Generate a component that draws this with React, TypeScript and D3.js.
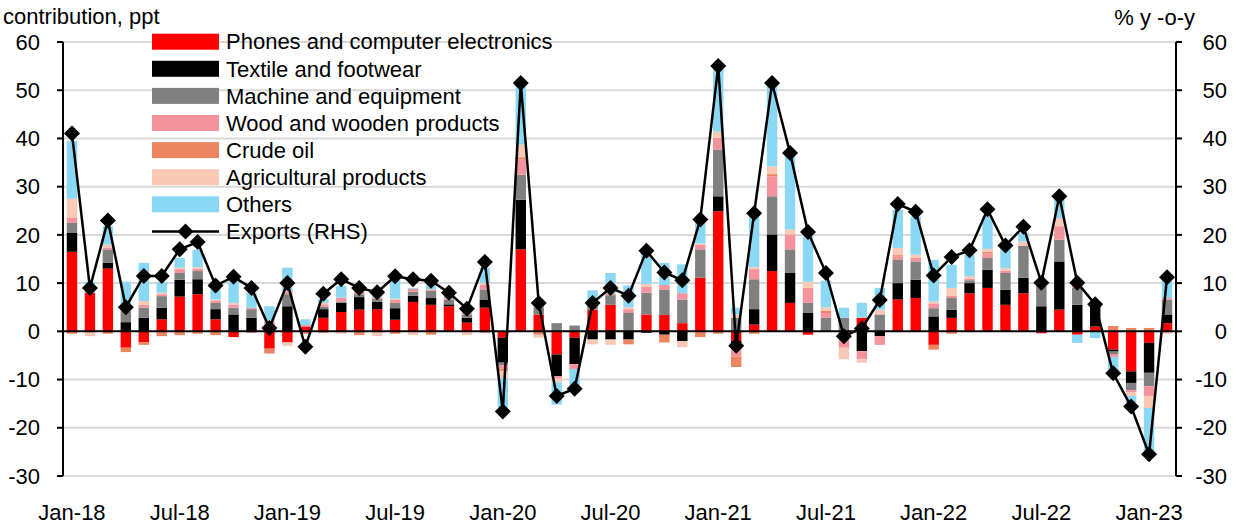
import React from 'react';
import * as d3 from 'd3';

const months = [
  'Jan-18','Feb-18','Mar-18','Apr-18','May-18','Jun-18','Jul-18','Aug-18','Sep-18','Oct-18','Nov-18','Dec-18',
  'Jan-19','Feb-19','Mar-19','Apr-19','May-19','Jun-19','Jul-19','Aug-19','Sep-19','Oct-19','Nov-19','Dec-19',
  'Jan-20','Feb-20','Mar-20','Apr-20','May-20','Jun-20','Jul-20','Aug-20','Sep-20','Oct-20','Nov-20','Dec-20',
  'Jan-21','Feb-21','Mar-21','Apr-21','May-21','Jun-21','Jul-21','Aug-21','Sep-21','Oct-21','Nov-21','Dec-21',
  'Jan-22','Feb-22','Mar-22','Apr-22','May-22','Jun-22','Jul-22','Aug-22','Sep-22','Oct-22','Nov-22','Dec-22',
  'Jan-23','Feb-23'
];

const phones = [16.5,8,13,-3.4,-2.3,2.5,7.2,7.7,2.5,-1.2,0,-3.6,-2.3,1,2.8,4,4.5,4.6,2.4,6.1,5.5,5.2,1.8,4.9,-1.3,17,3.5,-4.8,-1.3,4.5,5.5,0,3.5,3.4,1.7,11.1,24.9,-2,1.4,12.5,5.9,-0.7,0,-1.7,2.8,0,6.6,6.9,-2.8,2.8,7.9,9,5.5,7.9,-0.4,4.5,-0.7,1,-3.8,-8.3,-2.4,1.7];
const textile = [4,0,1.2,1.9,2.8,2.4,3.5,3.1,2.1,3.5,2.8,0,5.2,0,1.8,1.9,2.6,1.5,2.4,1.3,1.4,0.4,1,1.7,-5.2,10.3,0,-4.5,-5.5,-1.7,-1.7,-1.7,-0.3,-0.7,-2,0,3.1,-1.7,3.2,7.6,6.2,3.9,0,0,-4.1,-1,3.4,3.8,3.1,1.7,2.1,3.8,3.1,3.2,5.2,10,5.5,4.2,-0.4,-2.4,-6.2,1.8];
const machine = [2,0,2.8,2.3,2.1,2.4,1.4,1.7,1.3,1.4,1.8,1.2,2.5,0,0.5,0.3,0.6,0.6,1.1,0.8,1.5,1,0.7,2.1,-0.5,5.2,1.5,1.7,1.2,1,2,3.8,4.5,5.2,4.9,5.9,9.7,2.8,6.2,7.9,4.9,2,2.8,2.8,0,3.5,4.8,3.8,1.7,2.4,0.6,2.4,3.5,6.6,4.2,4.5,3.5,0.5,-0.5,-1.5,-2.8,3.1];
const wood = [1,0,0.4,0.3,0.6,0.4,0.8,0.5,0.5,0.6,0.3,0.8,0.6,0.3,0.5,0.8,0.6,0.3,0.6,0.6,0.3,0.3,0.4,1,-0.7,3.1,0.2,-0.5,-1,0.5,0.3,0.8,1.2,1,1.3,1,2.4,-1.6,2.1,4.1,3.1,3.1,1,-1.7,-1.7,-1.8,0.7,0.7,1,0.5,0.3,1,0.5,0,0,2.8,0.6,0,-0.6,-0.4,-2,0.3];
const crudeOil = [-0.5,0,-0.5,-0.9,-0.5,-1,-0.8,-0.5,-0.8,0,-0.3,-1,0,-0.5,-0.3,0,-0.8,0,-0.5,0,-0.7,0,0,-0.3,-0.5,0.5,-0.7,0,0,0,0,-1,0,-1.6,0,-1.2,-0.5,-2.1,-0.5,0.5,0,0,0.5,0,0,0,0.3,0,-1,-0.5,0,0.3,0,0,0,0,0.4,0,1.1,0.7,0.7,0];
const agri = [4,-1,0.6,0,0.8,0.3,0.3,0.3,0.2,0.4,0,0.3,-0.7,0,0.3,-0.5,0.3,-1,0.3,-0.8,0,0,-0.8,0.3,-1.5,2.6,-0.6,-0.8,0,-1,-1.1,0.4,0.6,0,-1.3,0.2,1.3,0.7,0.4,1.6,1,1.3,0.7,-2.4,-0.7,1,1.5,0.7,0.4,1.6,0.5,0.6,0.5,0.9,0,1.7,0,0,0,-0.8,-2.5,-0.5];
const others = [12,2.3,3.8,5.8,7.9,2.2,2,3.6,2.1,4.5,3.1,2.9,4.9,1.2,0.8,2.4,0.3,0.5,3.8,0.2,1,0.8,0.6,3.2,-6.2,12.1,0.5,-4.6,-4,2.5,4.3,4.5,6.8,4.6,6,4.8,13,1.4,10.8,16.9,15.5,9.4,5.5,2.1,3.1,4.5,7.9,7.9,8.6,4.8,4.4,6.7,4.2,1.8,0.5,3.8,-1.7,-1.4,-3.2,-1.5,-9.2,3.5];
const exportsYoY = [41,9,23,5,11.5,11.5,17,18.5,9.5,11.3,9,0.7,10,-3.2,7.8,10.8,9,8.1,11.4,10.8,10.5,8,4.7,14.4,-16.6,51.5,5.9,-13.4,-11.9,5.9,9,7.4,16.7,12.2,10.6,23.2,55,-3,24.5,51.5,37,20.6,12.1,-1,0.6,6.5,26.4,24.8,11.6,15.4,16.8,25.3,17.8,21.7,10.1,28,10.1,5.6,-8.7,-15.6,-25.5,11.2];

const yTicks = [-30,-20,-10,0,10,20,30,40,50,60];
const xTickLabels = ['Jan-18','Jul-18','Jan-19','Jul-19','Jan-20','Jul-20','Jan-21','Jul-21','Jan-22','Jul-22','Jan-23'];

const seriesNames = ['Phones and computer electronics','Textile and footwear','Machine and equipment','Wood and wooden products','Crude oil','Agricultural products','Others'];
const seriesColors = ['#ff0000','#000000','#808080','#f5939c','#ec8661','#f8c9b5','#8bd8f5'];
const seriesData = [phones, textile, machine, wood, crudeOil, agri, others];

const FONT = "'Liberation Sans', Arial, sans-serif";

export default function App() {
  const W = 1247, H = 528;
  const left = 63, right = 1176, top = 42, bottom = 476;

  const x = d3.scaleBand<string>().domain(months).range([left, right]).paddingInner(0.42).paddingOuter(0.21);
  const y = d3.scaleLinear().domain([-30, 60]).range([bottom, top]);
  const cx = (m: string) => (x(m) as number) + x.bandwidth() / 2;

  const keys = seriesNames.map((_, i) => 's' + i);
  const table = months.map((m, i) => {
    const row: any = { month: m };
    seriesData.forEach((arr, k) => { row['s' + k] = arr[i]; });
    return row;
  });
  const stacked = d3.stack<any>().keys(keys).offset(d3.stackOffsetDiverging)(table);

  const linePath = d3.line<number>()
    .x((_, i) => cx(months[i]))
    .y(d => y(d))(exportsYoY) as string;

  const diamond = (s: number) => `M0,${-s}L${s},0L0,${s}L${-s},0Z`;

  const legendY0 = 41.7, legendStep = 27.1;

  return (
    <svg width={W} height={H} style={{ position: 'absolute', left: 0, top: 0, background: '#fff' }} fontFamily={FONT}>
      <rect x={0} y={0} width={W} height={H} fill="#fff" />
      {yTicks.filter(t => t !== 0).map(t => (
        <line key={'g' + t} x1={left} x2={right} y1={y(t)} y2={y(t)} stroke="#d9d9d9" strokeWidth={2} />
      ))}
      {stacked.map((s, k) => (
        <g key={s.key} fill={seriesColors[k]}>
          {s.map((d, i) => {
            const y0 = y(d[0]), y1 = y(d[1]);
            const h = Math.abs(y0 - y1);
            if (h < 0.01) return null;
            return <rect key={i} x={x(months[i])} width={x.bandwidth()} y={Math.min(y0, y1)} height={h} />;
          })}
        </g>
      ))}
      <line x1={left} x2={right} y1={y(0)} y2={y(0)} stroke="#000" strokeWidth={2} />
      <line x1={left} x2={left} y1={top} y2={bottom} stroke="#000" strokeWidth={2} />
      {yTicks.map(t => (
        <g key={'l' + t}>
          <line x1={left - 6} x2={left} y1={y(t)} y2={y(t)} stroke="#000" strokeWidth={2} />
          <text x={40} y={y(t)} dy="0.35em" textAnchor="end" fontSize={22} fill="#000">{t}</text>
        </g>
      ))}
      <line x1={right} x2={right} y1={top} y2={bottom} stroke="#000" strokeWidth={2} />
      {yTicks.map(t => (
        <g key={'r' + t}>
          <line x1={right} x2={right + 6} y1={y(t)} y2={y(t)} stroke="#000" strokeWidth={2} />
          <text x={1227} y={y(t)} dy="0.35em" textAnchor="end" fontSize={22} fill="#000">{t}</text>
        </g>
      ))}
      {xTickLabels.map(m => (
        <text key={'x' + m} x={cx(m)} y={520} textAnchor="middle" fontSize={22} fill="#000">{m}</text>
      ))}
      <text x={3} y={24} fontSize={22} fill="#000">contribution, ppt</text>
      <text x={1195} y={25} textAnchor="end" fontSize={22} fill="#000">% y -o-y</text>
      <path d={linePath} fill="none" stroke="#000" strokeWidth={2.5} />
      {exportsYoY.map((v, i) => (
        <path key={'d' + i} d={diamond(8)} transform={`translate(${cx(months[i])},${y(v)})`} fill="#000" />
      ))}
      {seriesNames.map((n, k) => {
        const cy = legendY0 + k * legendStep;
        return (
          <g key={'lg' + k}>
            <rect x={152} y={cy - 8} width={67} height={16} fill={seriesColors[k]} />
            <text x={226} y={cy} dy="0.35em" fontSize={22} fill="#000">{n}</text>
          </g>
        );
      })}
      {(() => {
        const cy = legendY0 + 7 * legendStep;
        return (
          <g>
            <line x1={152} x2={219} y1={cy} y2={cy} stroke="#000" strokeWidth={2.5} />
            <path d={diamond(8)} transform={`translate(185.5,${cy})`} fill="#000" />
            <text x={226} y={cy} dy="0.35em" fontSize={22} fill="#000">Exports (RHS)</text>
          </g>
        );
      })()}
    </svg>
  );
}
